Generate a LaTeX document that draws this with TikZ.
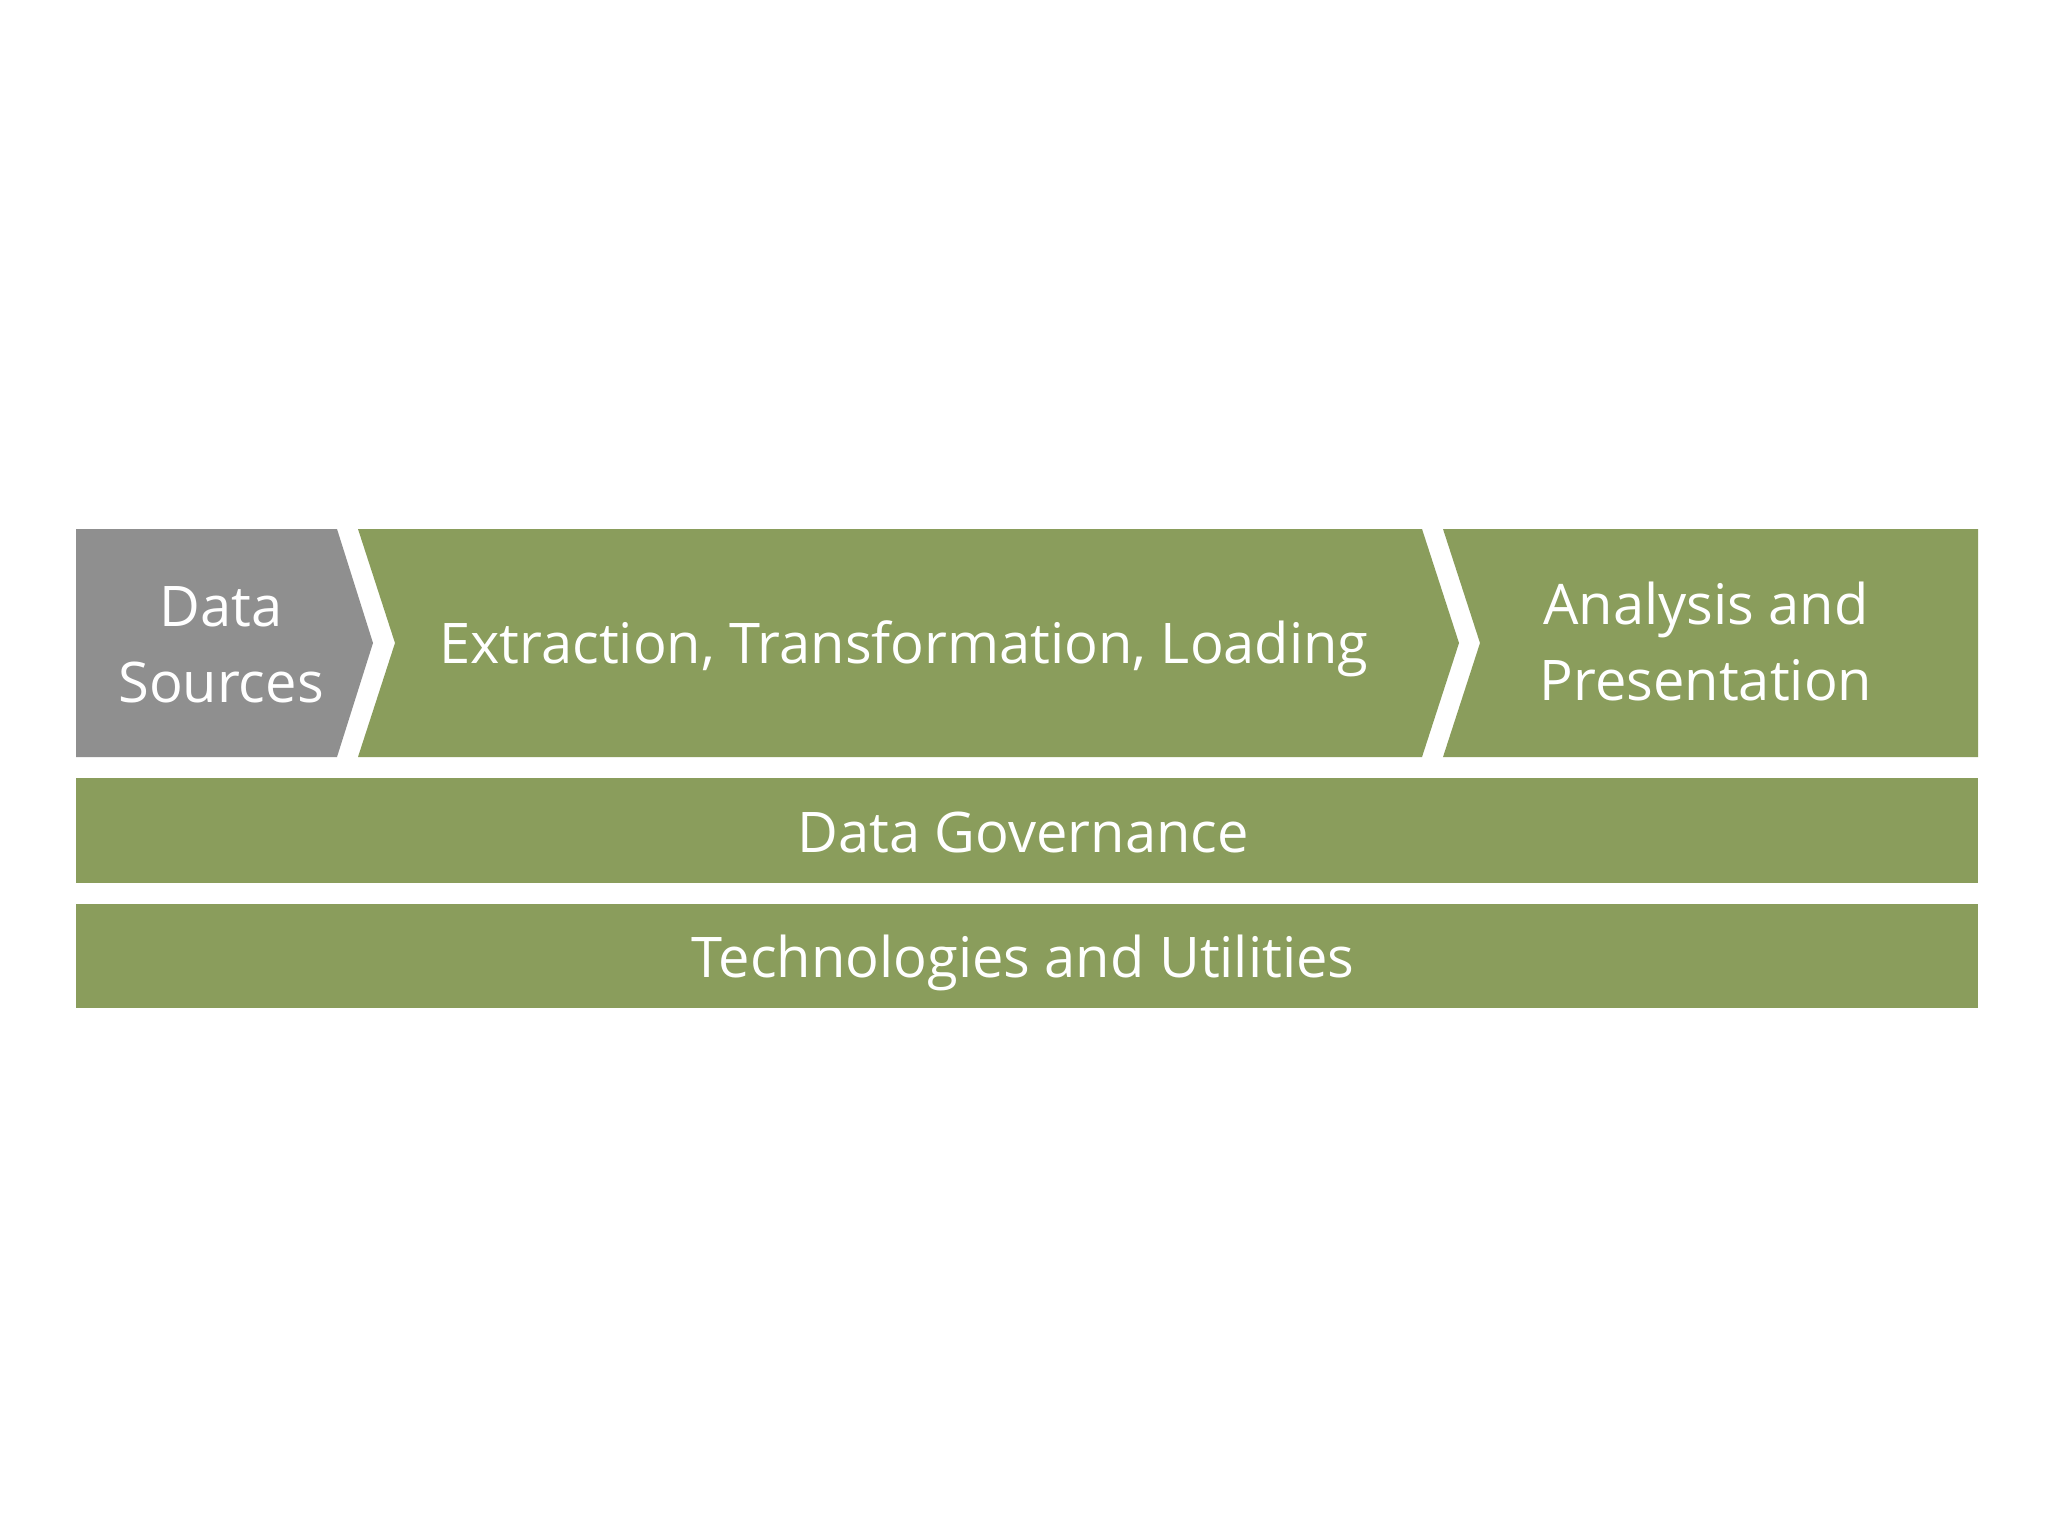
\documentclass[tikz,border=0pt]{standalone}
\usepackage{fontspec}
\setmainfont{Open Sans}
\definecolor{boxgreen}{HTML}{8A9D5C}
\definecolor{boxgray}{HTML}{8F8F8F}
\tikzset{
  lbl/.style={text=white, align=center, inner sep=0pt, anchor=base, font=\fontsize{56}{76}\selectfont},
  greenfill/.style={fill=boxgreen, draw=none},
  grayfill/.style={fill=boxgray, draw=none}
}
\begin{document}
\begin{tikzpicture}[x=1pt,y=-1pt]
\useasboundingbox (0,0) rectangle (2048,1536);
\fill[white] (0,0) rectangle (2048,1536);
% top row chevrons
\path[grayfill] (76,529) -- (337,529) -- (373,643) -- (337,757) -- (76,757) -- cycle;
\path[greenfill] (358,529) -- (1422,529) -- (1459,643) -- (1422,757) -- (358,757) -- (395,643) -- cycle;
\path[greenfill] (1443,529) -- (1978,529) -- (1978,757) -- (1443,757) -- (1480,643) -- cycle;
% bars
\path[greenfill] (76,778) rectangle (1978,883);
\path[greenfill] (76,904) rectangle (1978,1008);
% labels (base anchor = baseline of the last line)
\node[lbl] (ds) at (221,702) {Data\\Sources};
\node[lbl] (etl) at (904,663) {Extraction, Transformation, Loading};
\node[lbl] (ap) at (1706,700) {Analysis and\\Presentation};
\node[lbl] (gov) at (1023,852) {Data Governance};
\node[lbl] (tech) at (1023,977) {Technologies and Utilities};
\end{tikzpicture}
\end{document}
